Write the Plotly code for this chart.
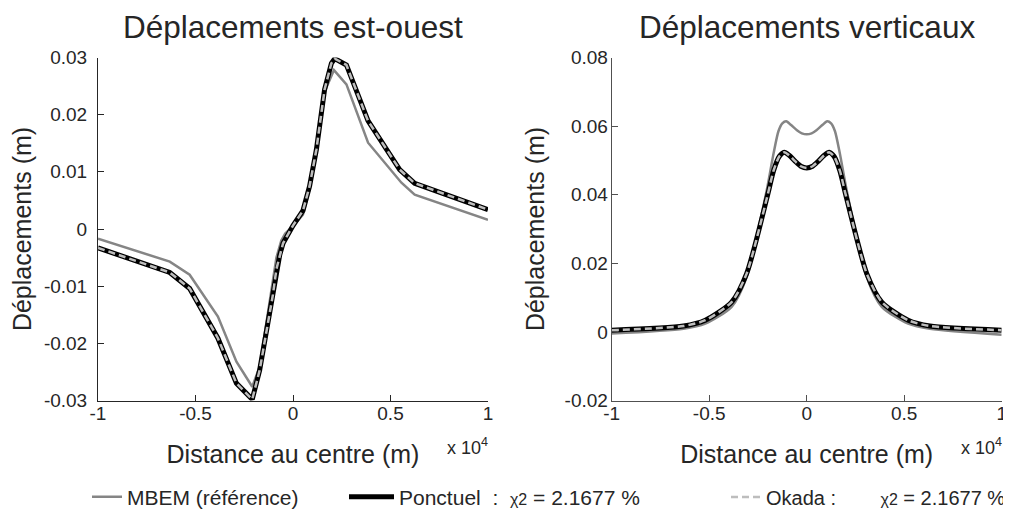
import plotly.graph_objects as go

# ---------------- data (x in metres, displayed in units of 1e4) ----------------
# Left panel: east-west displacements (m)
ew_mbem_x = [-10000, -6320, -5300, -3850, -2900, -2090, -1710, -1300, -1030, -850, -600, -400,
             0, 510, 850, 1200, 1620, 2100, 2740, 3850, 5560, 6240, 10000]
ew_mbem_y = [-0.0017, -0.0057, -0.0080, -0.0153, -0.0232, -0.0276, -0.0241, -0.0150, -0.0089,
             -0.0050, -0.0020, -0.0008, 0.0005, 0.0025, 0.0070, 0.0135, 0.0240, 0.0278, 0.0253,
             0.0151, 0.0081, 0.0060, 0.0016]

ew_ponct_x = [-10000, -6320, -5300, -3850, -2900, -2090, -1710, -1300, -1030, -850, -680, -510,
              -300, 0, 510, 850, 1200, 1620, 1970, 2140, 2740, 3850, 5470, 6240, 10000]
ew_ponct_y = [-0.0033, -0.0076, -0.0104, -0.0191, -0.0270, -0.0298, -0.0247, -0.0168, -0.0115,
              -0.0070, -0.0045, -0.0025, -0.0012, 0.0006, 0.0032, 0.0075, 0.0139, 0.0244, 0.0290,
              0.0298, 0.0287, 0.0189, 0.0104, 0.0080, 0.0034]

ew_okada_x = [-10000, -6320, -5300, -3850, -2900, -2090, -1710, -1300, -1030, -850, -680, -510,
              -300, 0, 510, 850, 1200, 1620, 1970, 2140, 2740, 3850, 5470, 6240, 10000]
ew_okada_y = [-0.0033, -0.0076, -0.0104, -0.0191, -0.0270, -0.0298, -0.0247, -0.0168, -0.0115,
              -0.0070, -0.0045, -0.0025, -0.0012, 0.0006, 0.0032, 0.0075, 0.0139, 0.0244, 0.0290,
              0.0298, 0.0287, 0.0189, 0.0104, 0.0080, 0.0034]

# Right panel: vertical displacements (m)
vz_mbem_x = [-10000, -6320, -5200, -3850, -3080, -2050, -1700, -1450, -1250, -1050, -800, -500,
             -250, 0, 250, 500, 800, 1050, 1250, 1450, 1700, 2050, 3080, 3850, 5200, 6320, 10000]
vz_mbem_y = [-0.0005, 0.0009, 0.0024, 0.0073, 0.0160, 0.0413, 0.0520, 0.0585, 0.0608, 0.0614,
             0.0603, 0.0588, 0.0579, 0.0576, 0.0579, 0.0588, 0.0603, 0.0614, 0.0608, 0.0585,
             0.0520, 0.0413, 0.0160, 0.0073, 0.0024, 0.0009, -0.0008]

vz_ponct_x = [-10000, -6320, -5200, -3850, -3080, -2000, -1700, -1400, -1150, -900, -600, -300,
              0, 300, 600, 900, 1150, 1400, 1700, 2000, 3080, 3850, 5200, 6320, 10000]
vz_ponct_y = [0.0005, 0.0017, 0.0034, 0.0087, 0.0170, 0.0400, 0.0470, 0.0512, 0.0524, 0.0515,
              0.0498, 0.0483, 0.0478, 0.0483, 0.0498, 0.0515, 0.0524, 0.0512, 0.0470, 0.0400,
              0.0170, 0.0087, 0.0034, 0.0017, 0.0005]

vz_okada_x = [-10000, -6320, -5200, -3850, -3080, -2000, -1700, -1400, -1150, -900, -600, -300,
              0, 300, 600, 900, 1150, 1400, 1700, 2000, 3080, 3850, 5200, 6320, 10000]
vz_okada_y = [0.0005, 0.0017, 0.0034, 0.0087, 0.0170, 0.0400, 0.0470, 0.0512, 0.0524, 0.0515,
              0.0498, 0.0483, 0.0478, 0.0483, 0.0498, 0.0515, 0.0524, 0.0512, 0.0470, 0.0400,
              0.0170, 0.0087, 0.0034, 0.0017, 0.0005]

x_tickvals = [-10000, -5000, 0, 5000, 10000]
x_ticktext = ["-1", "-0.5", "0", "0.5", "1"]
ew_tickvals = [-0.03, -0.02, -0.01, 0, 0.01, 0.02, 0.03]
ew_ticktext = ["-0.03", "-0.02", "-0.01", "0", "0.01", "0.02", "0.03"]
vz_tickvals = [-0.02, 0, 0.02, 0.04, 0.06, 0.08]
vz_ticktext = ["-0.02", "0", "0.02", "0.04", "0.06", "0.08"]

CHI = "<span style='font-size:16px'>χ2</span>"
names = ["MBEM (référence)",
         "Ponctuel\u00a0\u00a0:\u00a0\u00a0" + CHI + " = 2.1677 %",
         "Okada :" + "\u00a0" * 8 + CHI + " = 2.1677 %"]
titles = ["Déplacements est-ouest", "Déplacements verticaux"]
xtitle = "Distance au centre (m)"
ytitle = "Déplacements (m)"

FONT = "Liberation Sans, Arial, Helvetica, sans-serif"
TXT = "#262626"

# ---------------- figure ----------------
fig = go.Figure()

styles = [
    dict(color="#858585", width=2.5),
    dict(color="#000000", width=5),
    dict(color="#bdbdbd", width=2.5, dash="7px,4px"),
]
legends = ["legend", "legend2", "legend3"]

left = [(ew_mbem_x, ew_mbem_y), (ew_ponct_x, ew_ponct_y), (ew_okada_x, ew_okada_y)]
right = [(vz_mbem_x, vz_mbem_y), (vz_ponct_x, vz_ponct_y), (vz_okada_x, vz_okada_y)]

for i, (xs, ys) in enumerate(left):
    fig.add_trace(go.Scatter(x=xs, y=ys, mode="lines", line=styles[i], name=names[i],
                             legend=legends[i], showlegend=True, xaxis="x", yaxis="y"))
for i, (xs, ys) in enumerate(right):
    fig.add_trace(go.Scatter(x=xs, y=ys, mode="lines",
                             line=dict(**styles[i], shape="spline", smoothing=0.7),
                             name=names[i], showlegend=False, xaxis="x2", yaxis="y2"))

# page body has an 8px margin: figure coordinates = screenshot coordinates - 8
W, H = 1003, 512
xdom1 = [90 / W, 480 / W]
xdom2 = [603.7 / W, 993.7 / W]
ydom = [(H - 392.5) / H, (H - 49.5) / H]

def xaxis(dom, anchor, lc):
    return dict(domain=dom, anchor=anchor, range=[-10000, 10000], tickvals=x_tickvals,
                ticktext=x_ticktext, ticks="inside", ticklen=6, tickcolor=lc, showline=True,
                linecolor=lc, linewidth=1, showgrid=False, zeroline=False, mirror=False,
                tickfont=dict(size=19, color=TXT, family=FONT), ticklabelstandoff=-4,
                title=dict(text=xtitle, font=dict(size=25, color=TXT, family=FONT), standoff=22),
                automargin=False)

def yaxis(anchor, rng, tv, tt, lc, lso, tso):
    return dict(domain=ydom, anchor=anchor, range=rng, tickvals=tv, ticktext=tt,
                ticks="inside", ticklen=6, tickcolor=lc, showline=True, linecolor=lc,
                linewidth=1, showgrid=False, zeroline=False, mirror=False,
                tickfont=dict(size=19, color=TXT, family=FONT), ticklabelstandoff=lso,
                title=dict(text=ytitle, font=dict(size=25, color=TXT, family=FONT), standoff=tso),
                automargin=False)

leg_common = dict(orientation="h", yanchor="middle", xanchor="left", y=(H - 489) / H,
                  bgcolor="rgba(0,0,0,0)", borderwidth=0)

fig.update_layout(
    width=W, height=H,
    template="none",
    paper_bgcolor="white", plot_bgcolor="white",
    margin=dict(l=0, r=0, t=0, b=0, pad=0),
    font=dict(family=FONT, color=TXT),
    xaxis=xaxis(xdom1, "y", "#262626"),
    yaxis=yaxis("x", [-0.03, 0.03], ew_tickvals, ew_ticktext, "#262626", 6, 13),
    xaxis2=xaxis(xdom2, "y2", "#505050"),
    yaxis2=yaxis("x2", [-0.02, 0.08], vz_tickvals, vz_ticktext, "#505050", -1, 12),
    legend=dict(x=79 / W, itemwidth=30, font=dict(size=21, color=TXT, family=FONT), **leg_common),
    legend2=dict(x=336 / W, itemwidth=45, font=dict(size=21, color=TXT, family=FONT), **leg_common),
    legend3=dict(x=718 / W, itemwidth=30, font=dict(size=20, color=TXT, family=FONT), **leg_common),
    showlegend=True,
)

centers = [(xdom1[0] + xdom1[1]) / 2, (xdom2[0] + xdom2[1]) / 2]
for c, t in zip(centers, titles):
    fig.add_annotation(text=t, x=c, y=1, xref="paper", yref="paper",
                       xanchor="center", yanchor="top", showarrow=False, borderpad=0,
                       font=dict(size=31.5, color=TXT, family=FONT))

for xd in (xdom1, xdom2):
    fig.add_annotation(text="x 10<sup>4</sup>", x=xd[1] - 43 / W, y=(H - 438) / H,
                       xref="paper", yref="paper", xanchor="left", yanchor="middle",
                       showarrow=False, font=dict(size=18, color=TXT, family=FONT))

fig.write_html("out.html")
